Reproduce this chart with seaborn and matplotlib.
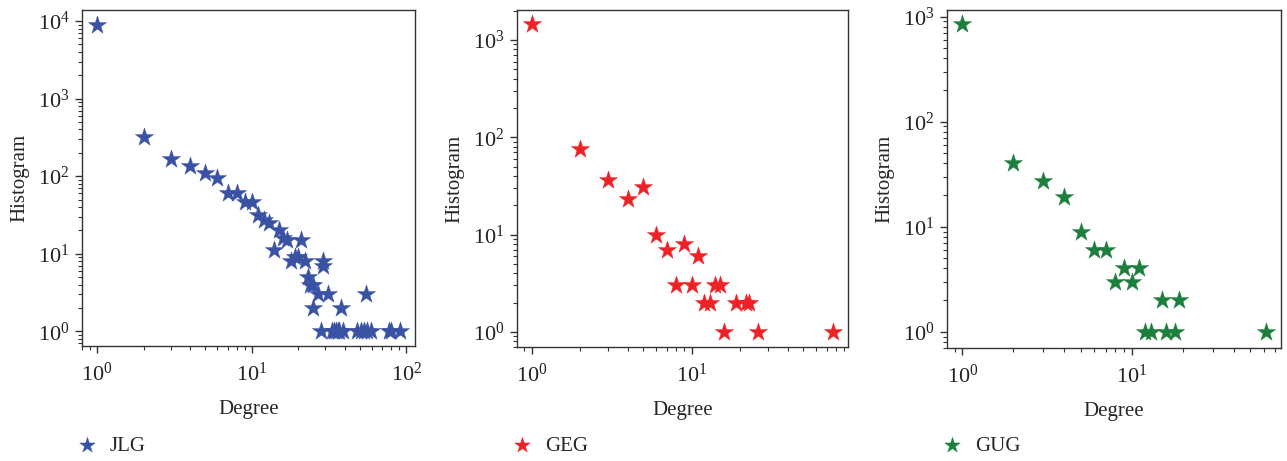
import numpy as np
import pandas as pd
import seaborn as sns
import matplotlib
matplotlib.use("Agg")
import matplotlib.pyplot as plt

# Degree distributions (degree, number of nodes with that degree)
jlg_degree = [1, 2, 3, 4, 5, 6, 7, 8, 9, 10, 11, 12, 13, 14, 15, 16, 17, 18, 19, 20,
              21, 22, 23, 24, 25, 25, 27, 28, 29, 29, 31, 33, 34, 35, 36, 37, 38, 39,
              48, 51, 53, 55, 56, 59, 77, 80, 91]
jlg_count = [9000, 320, 165, 136, 110, 94, 60, 60, 46, 46, 32, 27, 25, 11, 20, 16, 15, 8, 9, 9,
             15, 8, 5, 4, 4, 2, 3, 1, 8, 7, 3, 1, 1, 1, 1, 1, 2, 1,
             1, 1, 1, 3, 1, 1, 1, 1, 1]

geg_degree = [1, 2, 3, 4, 5, 6, 7, 8, 9, 10, 11, 12, 13, 14, 15, 16, 19, 22, 23, 26, 77]
geg_count = [1450, 76, 36, 23, 31, 10, 7, 3, 8, 3, 6, 2, 2, 3, 3, 1, 2, 2, 2, 1, 1]

gug_degree = [1, 2, 3, 4, 5, 6, 7, 8, 9, 10, 11, 12, 13, 15, 16, 18, 19, 62]
gug_count = [845, 40, 27, 19, 9, 6, 6, 3, 4, 3, 4, 1, 1, 2, 1, 1, 2, 1]

series_names = ["JLG", "GEG", "GUG"]
series_colors = ["#3a52a3", "#ec2227", "#1c7f3d"]

sns.set_style("ticks")
plt.rcParams["font.family"] = ["Liberation Serif", "DejaVu Serif"]
plt.rcParams["mathtext.fontset"] = "custom"
plt.rcParams["mathtext.rm"] = "Liberation Serif"

fig = plt.figure(figsize=(12.87, 4.61), dpi=100)

W, H = 1287, 461
boxes = [(82, 415, 10, 346), (517, 848, 10, 347), (947, 1281, 10, 348)]
xlims = [(0.80, 114), (0.81, 95), (0.81, 76)]
ylims = [(0.645, 13900), (0.70, 2030), (0.70, 1157)]
datasets = [(jlg_degree, jlg_count), (geg_degree, geg_count), (gug_degree, gug_count)]

for (l, r, t, b), xl, yl, (deg, cnt), name, col in zip(boxes, xlims, ylims, datasets,
                                                       series_names, series_colors):
    ax = fig.add_axes([l / W, (H - b) / H, (r - l) / W, (b - t) / H])
    df = pd.DataFrame({"Degree": deg, "Histogram": cnt})
    sns.scatterplot(data=df, x="Degree", y="Histogram", ax=ax, marker="*", s=190,
                    color=col, edgecolor=col, linewidth=0.3, label=name, legend=False)
    ax.set_xscale("log")
    ax.set_yscale("log")
    ax.set_xlim(*xl)
    ax.set_ylim(*yl)
    ax.set_xlabel("Degree", fontsize=15, labelpad=10)
    ax.set_ylabel("Histogram", fontsize=15, labelpad=6)
    ax.tick_params(axis="both", which="major", direction="out", length=5, width=1,
                   labelsize=16, colors="#333333", labelcolor="#222222")
    ax.tick_params(axis="both", which="minor", direction="out", length=3, width=0.8,
                   colors="#333333")
    ax.tick_params(axis="x", which="major", pad=7)
    ax.tick_params(axis="y", which="major", pad=4)
    for sp in ax.spines.values():
        sp.set_color("#333333")
        sp.set_linewidth(1.0)
    handles, labels = ax.get_legend_handles_labels()
    ax.legend(handles, labels, loc="center left",
              bbox_to_anchor=((l - 16) / W, (H - 446) / H),
              bbox_transform=fig.transFigure, frameon=False, fontsize=15,
              handlelength=1.2, handletextpad=0.5, borderaxespad=0, markerscale=0.85)

fig.savefig("out.png", dpi=100)
